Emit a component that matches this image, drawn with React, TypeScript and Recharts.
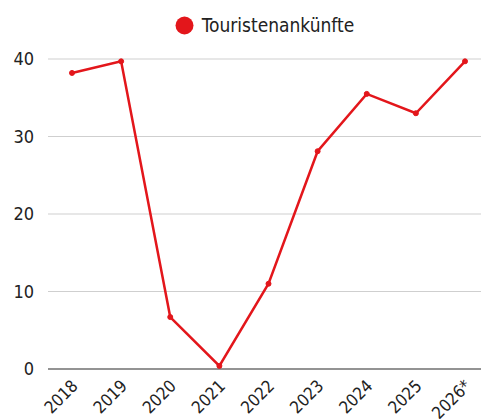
import { LineChart, Line, XAxis, YAxis, CartesianGrid, Legend, ReferenceLine } from "recharts"

const years = ["2018", "2019", "2020", "2021", "2022", "2023", "2024", "2025", "2026*"]
const arrivals = [38.2, 39.7, 6.7, 0.4, 11.0, 28.1, 35.5, 33.0, 39.7]
const yTicks = [0, 10, 20, 30, 40]

const data = years.map((year, i) => ({ year, value: arrivals[i] }))

const RED = "#e3161b"
const FONT = "'DejaVu Sans Condensed', Roboto, sans-serif"

function XTick(props: any) {
  const { x, y, payload } = props
  return (
    <text
      transform={`translate(${x + 7},${y + 10}) rotate(-45)`}
      textAnchor="end"
      fill="#222"
      fontSize={17}
      fontFamily={FONT}
    >
      {payload.value}
    </text>
  )
}

function LegendContent() {
  return (
    <div style={{ display: "flex", justifyContent: "center", alignItems: "center", fontFamily: FONT }}>
      <svg width={19} height={19} style={{ marginRight: 8 }}>
        <circle cx={9.5} cy={9.5} r={9} fill={RED} />
      </svg>
      <span style={{ fontSize: 19, color: "#222" }}>Touristenankünfte</span>
    </div>
  )
}

export default function App() {
  return (
    <div style={{ position: "absolute", left: 0, top: 0, width: 481, height: 419, background: "#fff" }}>
      <LineChart width={481} height={419} data={data} margin={{ top: 23, right: 0, bottom: 0, left: 0 }}>
        <Legend
          verticalAlign="top"
          height={36}
          content={<LegendContent />}
          wrapperStyle={{ top: 14, left: 48, width: 433 }}
        />
        <CartesianGrid vertical={false} stroke="#cfcfcf" />
        <XAxis
          dataKey="year"
          axisLine={false}
          tickLine={false}
          interval={0}
          padding={{ left: 24, right: 16 }}
          height={50}
          tick={<XTick />}
        />
        <YAxis
          domain={[0, 40]}
          ticks={yTicks}
          axisLine={false}
          tickLine={false}
          width={48}
          tickMargin={8}
          tick={{ fill: "#222", fontSize: 18, fontFamily: FONT }}
        />
        <ReferenceLine y={0} stroke="#777" strokeWidth={1.5} />
        <Line
          type="linear"
          dataKey="value"
          stroke={RED}
          strokeWidth={2.5}
          dot={{ r: 2.5, fill: RED, stroke: RED, strokeWidth: 1 }}
          activeDot={false}
          isAnimationActive={false}
        />
      </LineChart>
    </div>
  )
}
